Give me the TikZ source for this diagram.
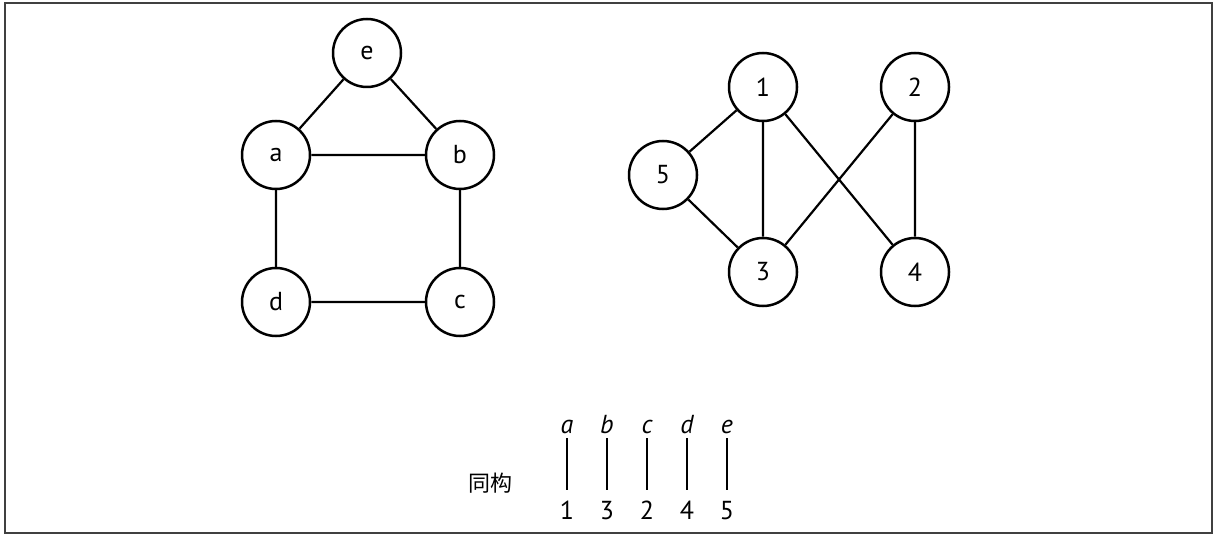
\documentclass[tikz,border=0pt]{standalone}
\usepackage{fontspec}
\setmainfont{PT Sans}
\newfontfamily\cjk{Noto Sans CJK SC}
\begin{document}
\begin{tikzpicture}[x=1pt,y=-1pt,
  vtx/.style={circle,draw,line width=2.5pt,minimum size=68pt,inner sep=0pt,font=\fontsize{26}{28}\selectfont},
  edge/.style={line width=2.2pt},
  map/.style={line width=2.2pt},
  lbl/.style={inner sep=0pt,font=\fontsize{26}{28}\selectfont}]
\useasboundingbox (0,0) rectangle (1214,537);
\draw[line width=1.8pt,black!75] (5,3) rectangle (1212,533);
% left graph
\node[vtx] (e) at (367,53) {e};
\node[vtx] (a) at (276,155) {a};
\node[vtx] (b) at (460,155) {b};
\node[vtx] (d) at (276,302) {d};
\node[vtx] (c) at (460,302) {c};
\draw[edge] (e)--(a) (e)--(b) (a)--(b) (a)--(d) (b)--(c) (d)--(c);
% right graph
\node[vtx] (n1) at (763,87) {1};
\node[vtx] (n2) at (915,87) {2};
\node[vtx] (n5) at (663,175) {5};
\node[vtx] (n3) at (763,272) {3};
\node[vtx] (n4) at (915,272) {4};
\draw[edge] (n1)--(n5) (n1)--(n3) (n1)--(n4) (n2)--(n3) (n2)--(n4) (n5)--(n3);
% mapping
\node[lbl,font=\cjk\fontsize{22}{24}\selectfont] (iso) at (490,483) {同构};
\foreach \l/\n/\x in {a/1/567,b/3/607,c/2/647,d/4/687,e/5/727}{
  \node[lbl,anchor=base] (t\l) at (\x,433) {\itshape \l};
  \node[lbl,anchor=base] (m\l) at (\x,519) {\n};
  \draw[map] (\x,438) coordinate (u\l) -- (\x,490) coordinate (v\l);
}
\end{tikzpicture}
\end{document}
